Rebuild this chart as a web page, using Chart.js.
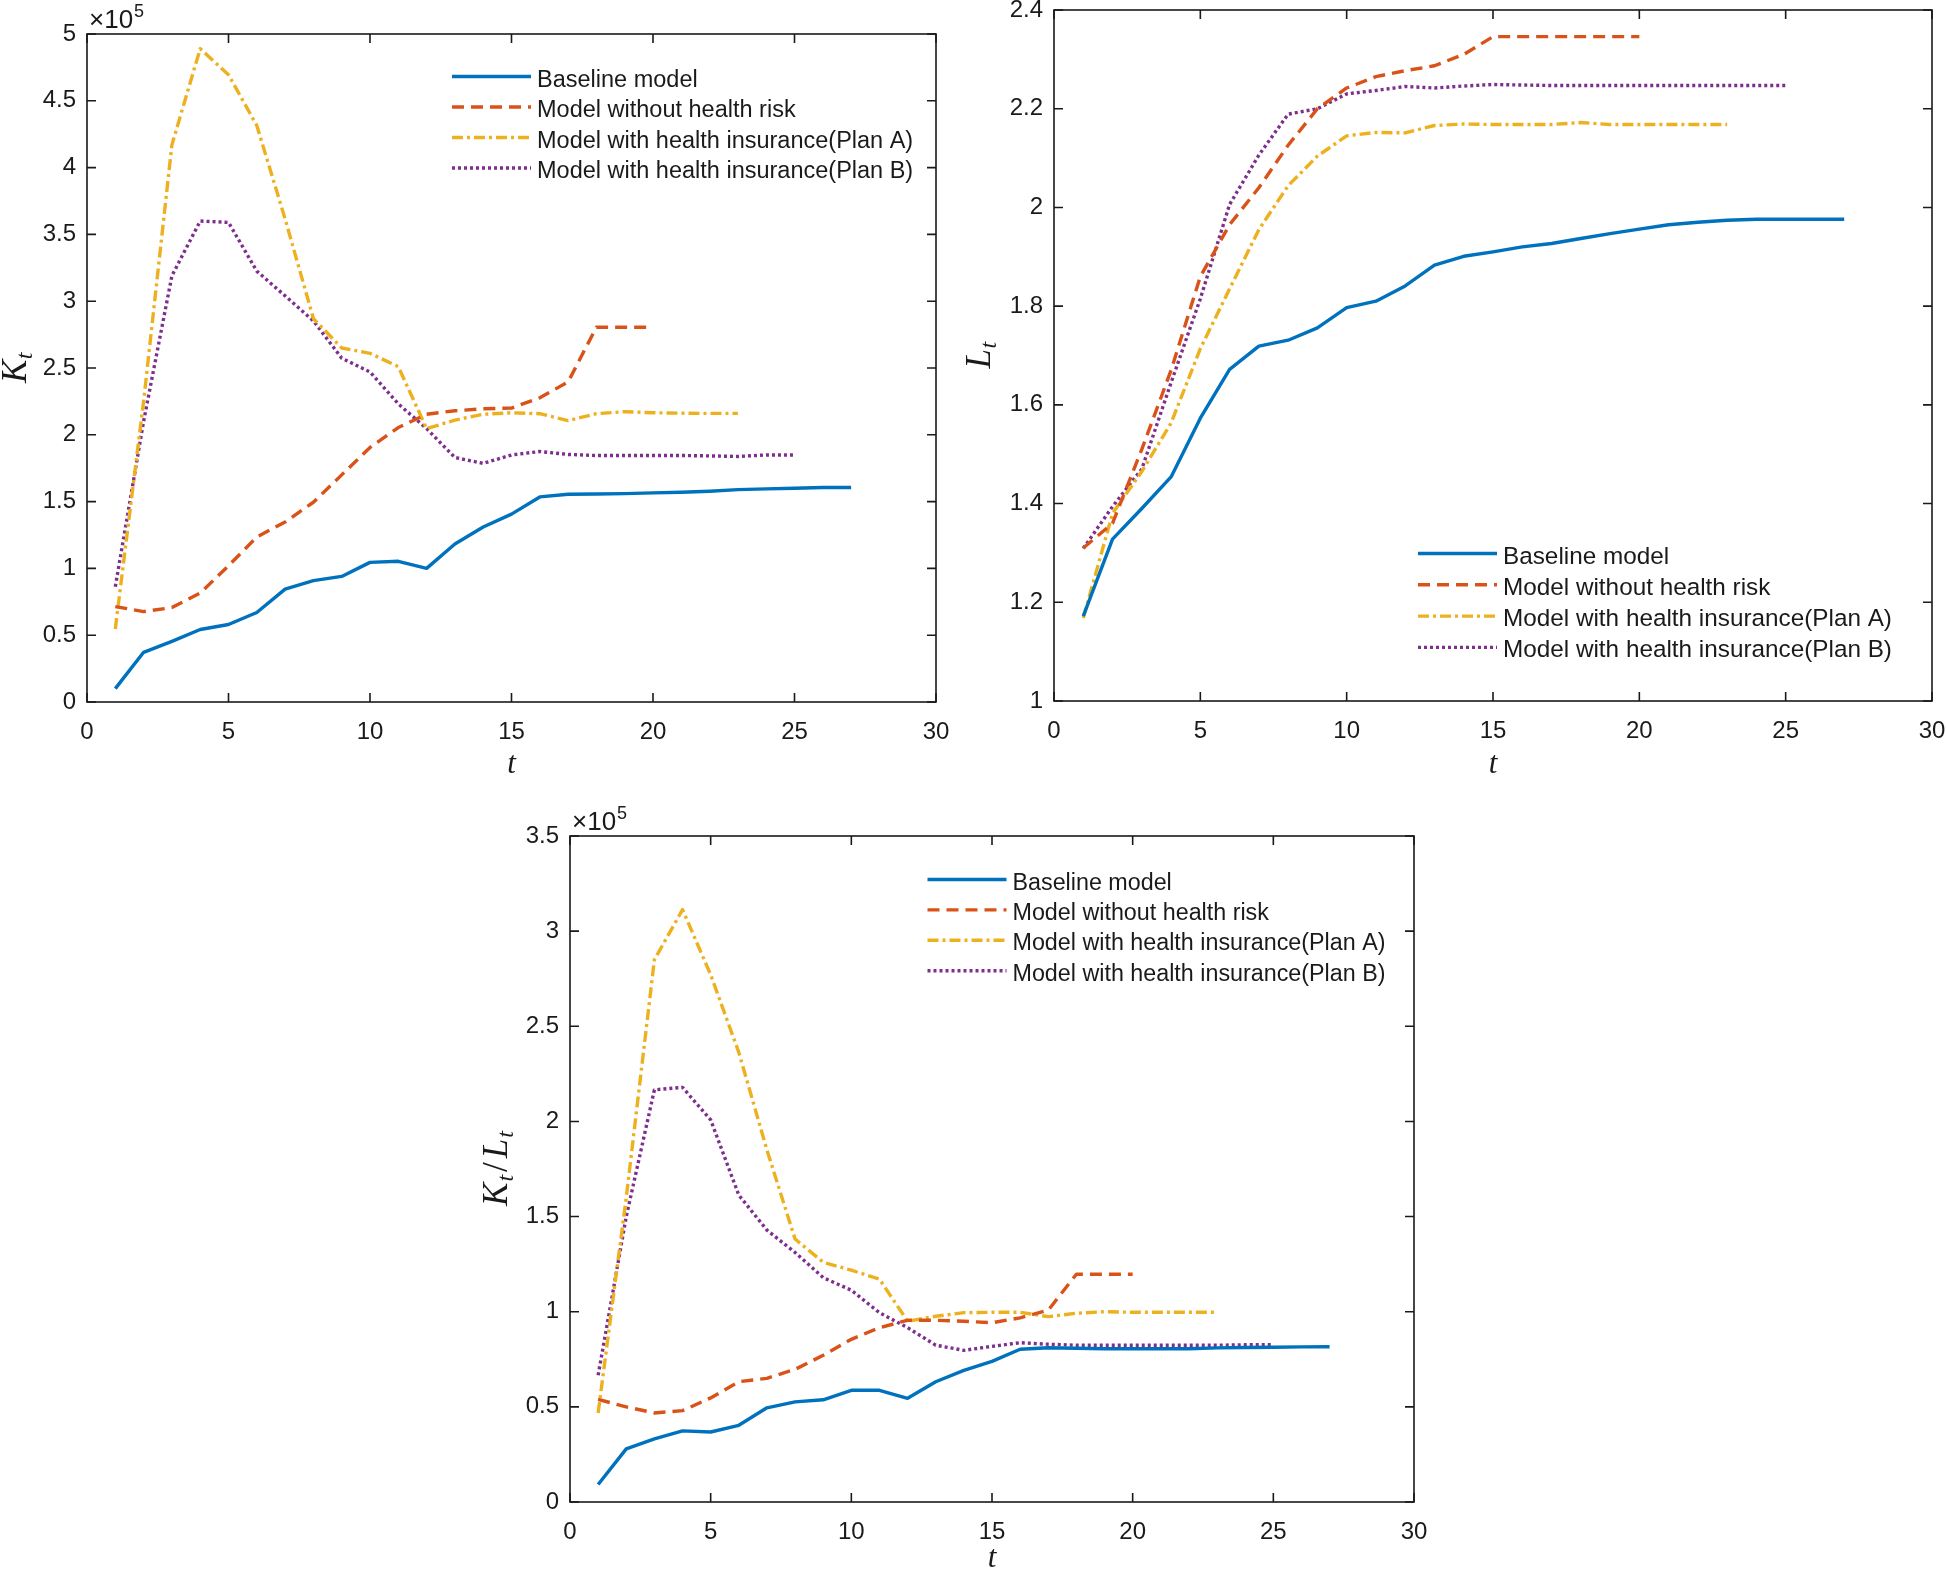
<!DOCTYPE html>
<html>
<head>
<meta charset="utf-8">
<script src="https://cdn.jsdelivr.net/npm/chart.js@4.4.1/dist/chart.umd.min.js"></script>
<style>
    html, body { margin: 0; padding: 0; background: #fff; }
    body { width: 1946px; height: 1574px; position: relative; overflow: hidden; }
    canvas { position: absolute; }
</style>
</head>
<body>
<canvas id="kCanvas" width="950" height="780" style="left:0px;top:0px;width:950px;height:780px"></canvas>
<canvas id="lCanvas" width="986" height="780" style="left:960px;top:0px;width:986px;height:780px"></canvas>
<canvas id="klCanvas" width="960" height="784" style="left:470px;top:790px;width:960px;height:784px"></canvas>
<script>
// periods t (x values)
const periods = [1, 2, 3, 4, 5, 6, 7, 8, 9, 10, 11, 12, 13, 14, 15, 16, 17, 18, 19, 20, 21, 22, 23, 24, 25, 26, 27];

const seriesLabels = [
    'Baseline model',
    'Model without health risk',
    'Model with health insurance(Plan A)',
    'Model with health insurance(Plan B)'
];

// capital K_t
const kBaseline = [10000, 37200, 45400, 54300, 58000, 67000, 84500, 90800, 94000, 104500, 105300, 100000, 118300, 131000, 140600, 153500, 155500, 155700, 156000, 156500, 157000, 157800, 159000, 159500, 160000, 160500, 160500];
const kNoRisk = [71400, 67700, 70700, 81500, 102000, 123500, 134700, 149500, 170000, 190500, 205400, 215400, 218000, 219500, 220000, 227700, 239600, 280500, 280500, 280500];
const kPlanA = [54700, 225000, 417000, 489000, 469500, 431500, 361600, 287000, 265000, 261000, 251000, 204600, 211000, 215400, 216500, 215800, 210600, 215800, 217300, 216500, 216200, 216000, 216000];
const kPlanB = [86300, 210000, 319000, 360000, 359000, 322500, 304000, 285300, 257400, 247000, 223200, 204600, 183000, 178600, 184900, 187500, 185300, 184500, 184500, 184500, 184500, 184200, 183800, 184900, 184900];

// labour L_t
const lBaseline = [1.172, 1.328, 1.39, 1.454, 1.573, 1.672, 1.719, 1.731, 1.756, 1.797, 1.81, 1.841, 1.883, 1.901, 1.91, 1.92, 1.927, 1.937, 1.947, 1.956, 1.965, 1.97, 1.974, 1.976, 1.976, 1.976, 1.976];
const lNoRisk = [1.31, 1.36, 1.51, 1.67, 1.86, 1.965, 2.04, 2.126, 2.20, 2.242, 2.265, 2.277, 2.287, 2.31, 2.346, 2.346, 2.346, 2.346, 2.346, 2.346];
const lPlanA = [1.168, 1.38, 1.465, 1.563, 1.714, 1.835, 1.955, 2.044, 2.104, 2.145, 2.152, 2.151, 2.166, 2.169, 2.168, 2.168, 2.168, 2.172, 2.168, 2.168, 2.168, 2.168, 2.168];
const lPlanB = [1.309, 1.394, 1.47, 1.645, 1.815, 2.006, 2.106, 2.189, 2.20, 2.23, 2.237, 2.245, 2.242, 2.246, 2.249, 2.248, 2.247, 2.247, 2.247, 2.247, 2.247, 2.247, 2.247, 2.247, 2.247];

// capital per labour K_t / L_t
const klBaseline = [9200, 27900, 33200, 37400, 36800, 40300, 49500, 52600, 53700, 58700, 58700, 54500, 63200, 69200, 73900, 80300, 81100, 80800, 80500, 80500, 80500, 80500, 81000, 81200, 81300, 81500, 81600];
const klNoRisk = [53900, 50000, 46800, 48000, 54700, 63200, 65000, 69700, 77100, 85500, 91600, 95500, 95500, 95000, 94200, 96800, 100800, 119700, 119700, 119700];
const klPlanA = [46800, 160000, 285000, 311300, 277100, 236300, 185000, 138200, 126000, 121800, 117100, 95000, 97600, 99500, 99700, 99700, 97400, 99200, 100000, 99700, 99700, 99700, 99700];
const klPlanB = [66600, 150000, 216600, 217900, 200800, 161300, 142900, 131100, 117900, 111300, 99500, 91600, 82400, 79700, 81800, 83700, 82900, 82400, 82400, 82400, 82400, 82400, 82400, 82600, 82600];

// MATLAB default line colours and styles
const seriesColors = ['#0072BD', '#D95319', '#EDB120', '#7E2F8E'];
const seriesDashes = [[], [12, 7], [11, 4, 3, 4], [3, 3]];
const axisColor = '#1a1a1a';
const tickFont = '"Liberation Sans", Arial, sans-serif';
const mathFont = '"Liberation Serif", "Times New Roman", serif';

function drawRotatedParts(ctx, parts, cx, cy) {
    let total = 0;
    parts.forEach(p => {
        ctx.font = p.font;
        p.w = ctx.measureText(p.text).width + (p.gap || 0);
        total += p.w;
    });
    ctx.save();
    ctx.translate(cx, cy);
    ctx.rotate(-Math.PI / 2);
    ctx.textAlign = 'left';
    ctx.textBaseline = 'alphabetic';
    ctx.fillStyle = axisColor;
    let x = -total / 2;
    parts.forEach(p => {
        ctx.font = p.font;
        ctx.fillText(p.text, x + (p.gap || 0) / 2, p.dy);
        x += p.w;
    });
    ctx.restore();
}

// box, inward ticks on all sides, exponent, legend and y label the MATLAB way
const matlabAxes = {
    id: 'matlabAxes',
    afterDatasetsDraw(chart, args, opts) {
        const {ctx, chartArea: a} = chart;
        const xs = chart.scales.x, ys = chart.scales.y;
        const tl = 9;
        ctx.save();
        ctx.strokeStyle = axisColor;
        ctx.lineWidth = 1.6;
        ctx.setLineDash([]);
        ctx.beginPath();
        xs.ticks.forEach(t => {
            const px = xs.getPixelForValue(t.value);
            ctx.moveTo(px, a.bottom); ctx.lineTo(px, a.bottom - tl);
            ctx.moveTo(px, a.top); ctx.lineTo(px, a.top + tl);
        });
        ys.ticks.forEach(t => {
            const py = ys.getPixelForValue(t.value);
            ctx.moveTo(a.left, py); ctx.lineTo(a.left + tl, py);
            ctx.moveTo(a.right, py); ctx.lineTo(a.right - tl, py);
        });
        ctx.stroke();
        ctx.strokeRect(a.left, a.top, a.right - a.left, a.bottom - a.top);

        ctx.fillStyle = axisColor;
        ctx.textAlign = 'left';
        ctx.textBaseline = 'alphabetic';
        if (opts.exponent) {
            const base = '\u00d710';
            ctx.font = '26px ' + tickFont;
            ctx.fillText(base, a.left + 2, a.top - 6);
            const w = ctx.measureText(base).width;
            ctx.font = '18px ' + tickFont;
            ctx.fillText(opts.exponent, a.left + 2 + w + 1, a.top - 17);
        }

        const lg = opts.legend;
        chart.data.datasets.forEach((ds, i) => {
            const y = a.top + lg.top + i * lg.rowH;
            const x0 = a.left + lg.left;
            ctx.strokeStyle = ds.borderColor;
            ctx.lineWidth = ds.borderWidth;
            ctx.setLineDash(ds.borderDash || []);
            ctx.beginPath();
            ctx.moveTo(x0, y);
            ctx.lineTo(x0 + 79, y);
            ctx.stroke();
            ctx.fillStyle = axisColor;
            ctx.font = lg.fontSize + 'px ' + tickFont;
            ctx.fillText(ds.label, x0 + 85, y + 10);
        });

        drawRotatedParts(ctx, opts.yTitle, opts.yTitleX, (a.top + a.bottom) / 2);
        ctx.restore();
    }
};

function fmt(v, div) {
    return String(+(v / div).toFixed(2));
}

function makeChart(canvasId, series, cfg) {
    const datasets = series.map((values, i) => ({
        label: seriesLabels[i],
        data: values.map((v, j) => ({x: periods[j], y: v})),
        borderColor: seriesColors[i],
        borderDash: seriesDashes[i],
        borderWidth: 3.4,
        borderCapStyle: 'butt',
        borderJoinStyle: 'round',
        pointRadius: 0,
        fill: false,
        tension: 0
    }));
    return new Chart(document.getElementById(canvasId), {
        type: 'line',
        data: {datasets: datasets},
        plugins: [matlabAxes],
        options: {
            responsive: false,
            animation: false,
            layout: {padding: cfg.padding},
            scales: {
                x: {
                    type: 'linear',
                    min: 0,
                    max: 30,
                    grid: {display: false, drawTicks: false},
                    border: {display: false},
                    ticks: {
                        stepSize: 5,
                        autoSkip: false,
                        maxRotation: 0,
                        padding: 16,
                        color: axisColor,
                        font: {family: tickFont, size: 24}
                    },
                    title: {
                        display: true,
                        text: 't',
                        color: axisColor,
                        padding: 0,
                        font: {family: mathFont, style: 'italic', size: 31, lineHeight: 1}
                    },
                    afterFit(scale) {
                        scale.height = cfg.xHeight;
                        scale.paddingLeft = 0;
                        scale.paddingRight = 0;
                    }
                },
                y: {
                    type: 'linear',
                    min: cfg.yMin,
                    max: cfg.yMax,
                    grid: {display: false, drawTicks: false},
                    border: {display: false},
                    ticks: {
                        stepSize: cfg.yStep,
                        autoSkip: false,
                        padding: 11,
                        color: axisColor,
                        font: {family: tickFont, size: 24},
                        callback: v => fmt(v, cfg.yDiv)
                    },
                    afterFit(scale) {
                        scale.width = cfg.yWidth;
                        scale.paddingTop = 0;
                        scale.paddingBottom = 0;
                    }
                }
            },
            plugins: {
                legend: {display: false},
                tooltip: {enabled: false},
                matlabAxes: {
                    exponent: cfg.exponent,
                    legend: cfg.legend,
                    yTitle: cfg.yTitle,
                    yTitleX: cfg.yTitleX
                }
            }
        }
    });
}

const bigMath = 'italic 35px ' + mathFont;
const subMath = 'italic 24px ' + mathFont;

makeChart('kCanvas', [kBaseline, kNoRisk, kPlanA, kPlanB], {
    padding: {top: 34, right: 14, left: 0, bottom: 0},
    yWidth: 87, xHeight: 78,
    yMin: 0, yMax: 500000, yStep: 50000, yDiv: 1e5,
    exponent: '5',
    legend: {left: 365, top: 42.5, rowH: 30.5, fontSize: 23.5},
    yTitle: [{text: 'K', font: bigMath, dy: 12, gap: 1}, {text: 't', font: subMath, dy: 18}],
    yTitleX: 14
});

makeChart('lCanvas', [lBaseline, lNoRisk, lPlanA, lPlanB], {
    padding: {top: 10, right: 14, left: 0, bottom: 0},
    yWidth: 94, xHeight: 79,
    yMin: 1, yMax: 2.4, yStep: 0.2, yDiv: 1,
    exponent: null,
    legend: {left: 364, top: 543.5, rowH: 31.3, fontSize: 24.3},
    yTitle: [{text: 'L', font: bigMath, dy: 12, gap: 1}, {text: 't', font: subMath, dy: 18}],
    yTitleX: 18
});

makeChart('klCanvas', [klBaseline, klNoRisk, klPlanA, klPlanB], {
    padding: {top: 46, right: 16, left: 0, bottom: 0},
    yWidth: 100, xHeight: 72,
    yMin: 0, yMax: 350000, yStep: 50000, yDiv: 1e5,
    exponent: '5',
    legend: {left: 357.5, top: 43.5, rowH: 30.4, fontSize: 23.3},
    yTitle: [
        {text: 'K', font: bigMath, dy: 12, gap: 2},
        {text: 't', font: subMath, dy: 18},
        {text: '/', font: '35px ' + mathFont, dy: 12, gap: 6},
        {text: 'L', font: bigMath, dy: 12, gap: 2},
        {text: 't', font: subMath, dy: 18}
    ],
    yTitleX: 25
});
</script>
</body>
</html>
